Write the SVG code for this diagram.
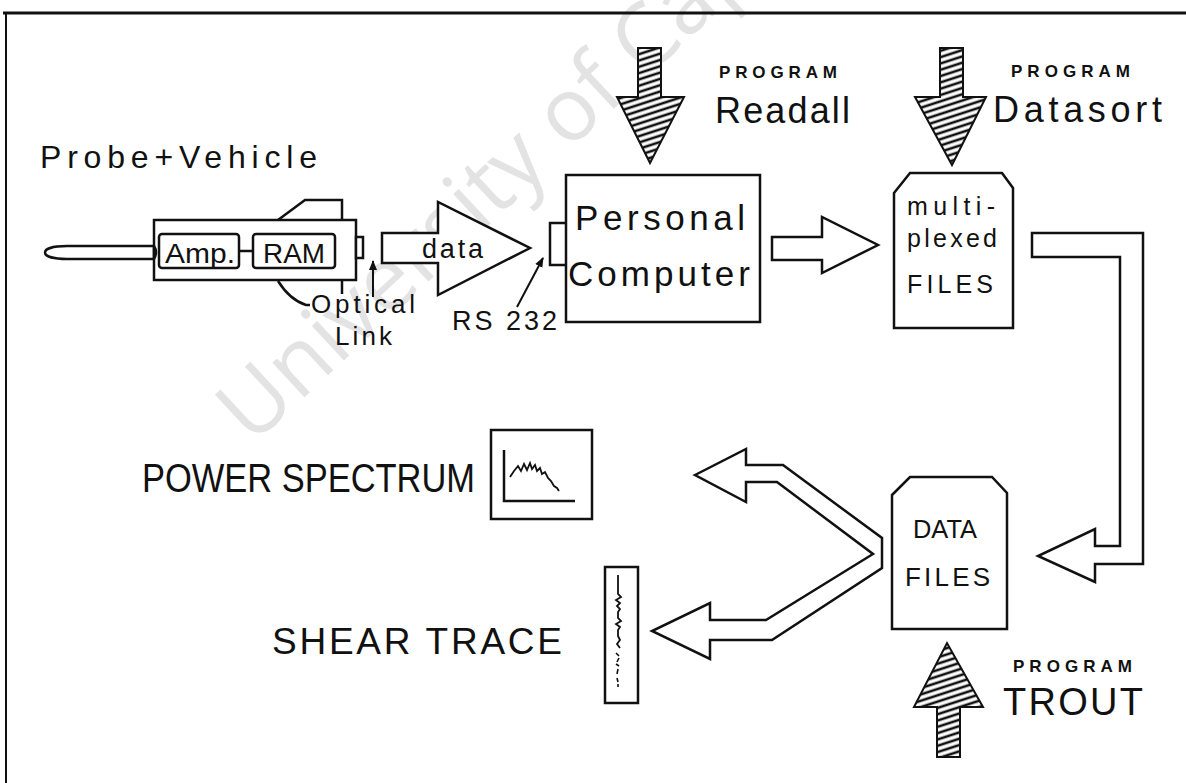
<svg xmlns="http://www.w3.org/2000/svg" width="1186" height="783" viewBox="0 0 1186 783">
  <style>
    .ln { fill: none; stroke: #111; stroke-width: 2.5; stroke-linejoin: miter; }
    .box { fill: #fff; stroke: #111; stroke-width: 2.5; }
    .blk { fill: #fff; stroke: #111; stroke-width: 2.5; stroke-linejoin: miter; }
    .hat { fill: url(#hatch); stroke: #111; stroke-width: 2; stroke-linejoin: miter; }
    .t { font-family: "Liberation Sans", Arial, sans-serif; fill: #111; }
    .prog { font-family: "Liberation Sans", Arial, sans-serif; font-weight: bold; font-size: 17px; fill: #111; }
    .wm { font-family: "Open Sans", "Liberation Sans", sans-serif; font-size: 88px; fill: #e3e3e3; }
  </style>
  <defs>
    <pattern id="hatch" patternUnits="userSpaceOnUse" width="6" height="6" patternTransform="rotate(-18)">
      <rect width="6" height="6" fill="#fff"/>
      <line x1="0" y1="3" x2="6" y2="3" stroke="#111" stroke-width="2.6"/>
    </pattern>
    <marker id="tip" markerWidth="10" markerHeight="10" refX="9" refY="5" orient="auto" markerUnits="userSpaceOnUse">
      <path d="M0,1 L10,5 L0,9 Z" fill="#111"/>
    </marker>
  </defs>

  <rect width="1186" height="783" fill="#fff"/>

  <!-- watermark -->
  <text class="wm" transform="translate(252,446) rotate(-43)">University of Cape Town</text>

  <!-- page frame -->
  <path d="M3,13 H1186" stroke="#111" stroke-width="3" fill="none"/>
  <path d="M6,13 V783" stroke="#111" stroke-width="2" fill="none"/>

  <!-- probe and vehicle -->
  <g id="probe">
    <text class="t" x="40" y="168" font-size="32" textLength="277" lengthAdjust="spacing">Probe+Vehicle</text>
    <path class="ln" d="M278,220 L305,200 H342 V220"/>
    <path class="ln" d="M278,281 Q290,300 306,305 H310"/>
    <path class="ln" d="M342,280 V294"/>
    <path class="box" d="M67,246 H154 V259 H67 C52,259 45,256 45,252.5 C45,249 52,246 67,246 Z"/>
    <rect class="box" x="154" y="220" width="202" height="60"/>
    <rect class="box" x="356" y="237" width="7" height="21"/>
    <path class="ln" d="M154,246 Q158,252 154,259"/>
    <rect class="box" x="159" y="234" width="80" height="34" rx="3"/>
    <rect class="box" x="253" y="234" width="82" height="34" rx="3"/>
    <path class="ln" d="M239,251 H253"/>
    <text class="t" x="165" y="263" font-size="27" textLength="70" lengthAdjust="spacingAndGlyphs">Amp.</text>
    <text class="t" x="263" y="263" font-size="27" textLength="62" lengthAdjust="spacingAndGlyphs">RAM</text>
    <text class="t" x="311" y="313" font-size="26" textLength="104" lengthAdjust="spacing">Optical</text>
    <text class="t" x="335" y="345" font-size="26" textLength="57" lengthAdjust="spacing">Link</text>
  </g>

  <!-- personal computer -->
  <g id="pc">
    <rect class="box" x="566" y="175" width="194" height="147"/>
    <path class="ln" d="M566,223 H550 V265 H566"/>
    <text class="t" x="575" y="230" font-size="35" textLength="170" lengthAdjust="spacing">Personal</text>
    <text class="t" x="568" y="286" font-size="35" textLength="182" lengthAdjust="spacing">Computer</text>
    <text class="t" x="452" y="330" font-size="27" textLength="105" lengthAdjust="spacing">RS 232</text>
  </g>

  <!-- program labels -->
  <g id="prog-readall">
    <text class="prog" x="719" y="78" textLength="118" lengthAdjust="spacing">PROGRAM</text>
    <text class="t" x="715" y="123" font-size="36" textLength="135" lengthAdjust="spacing">Readall</text>
  </g>
  <g id="prog-datasort">
    <text class="prog" x="1011" y="77" textLength="119" lengthAdjust="spacing">PROGRAM</text>
    <text class="t" x="993" y="122" font-size="36" textLength="169" lengthAdjust="spacing">Datasort</text>
  </g>
  <g id="prog-trout">
    <text class="prog" x="1013" y="672" textLength="119" lengthAdjust="spacing">PROGRAM</text>
    <text class="t" x="1003" y="715" font-size="38" textLength="140" lengthAdjust="spacing">TROUT</text>
  </g>

  <!-- multiplexed files -->
  <g id="mux-files">
    <path class="box" d="M894,193 L910,173 H1002 L1013,188 V328 H894 Z"/>
    <text class="t" x="907" y="215" font-size="25" textLength="88" lengthAdjust="spacing">multi-</text>
    <text class="t" x="907" y="247" font-size="25" textLength="90" lengthAdjust="spacing">plexed</text>
    <text class="t" x="907" y="293" font-size="25" textLength="86" lengthAdjust="spacing">FILES</text>
  </g>

  <!-- data files -->
  <g id="data-files">
    <path class="box" d="M892,495 L910,477 H992 L1007,493 V629 H892 Z"/>
    <text class="t" x="913" y="538" font-size="25" textLength="64" lengthAdjust="spacingAndGlyphs">DATA</text>
    <text class="t" x="905" y="586" font-size="26" textLength="85" lengthAdjust="spacing">FILES</text>
  </g>

  <!-- power spectrum -->
  <g id="power-spectrum">
    <text class="t" x="142" y="492" font-size="40" textLength="333" lengthAdjust="spacingAndGlyphs">POWER SPECTRUM</text>
    <rect class="box" x="491" y="430" width="101" height="89"/>
    <path class="ln" d="M504,450 V501 H575"/>
    <polyline fill="none" stroke="#111" stroke-width="1.8" points="510,477 514,471 518,466 521,471 524,464 527,470 530,463 532,469 535,465 537,471 540,468 542,474 545,472 548,478 551,481 554,486 557,488 559,491"/>
  </g>

  <!-- shear trace -->
  <g id="shear-trace">
    <text class="t" x="272" y="654" font-size="37" textLength="290" lengthAdjust="spacing">SHEAR TRACE</text>
    <rect class="box" x="605" y="567" width="33" height="136"/>
    <polyline fill="none" stroke="#111" stroke-width="1.8" points="618,575 618,594 621,597 616,600 620,603 617,606 620,609 618,612 618,618 621,621 616,624 620,627 618,630 618,636 620,640 617,644 620,648"/>
    <path fill="none" stroke="#111" stroke-width="1.6" d="M616,653 l3,3 M619,658 l-2,4 M616,664 l3,2 M618,669 l-1,5 M617,678 l1,4 M618,684 v3"/>
  </g>

  <!-- connectors -->
  <g id="connectors">
    <!-- probe to computer -->
    <path class="blk" d="M382,233 H438 V202 L530,248 L438,295 V263 H382 Z"/>
    <text class="t" x="422" y="258" font-size="27" textLength="61" lengthAdjust="spacing">data</text>
    <!-- optical link pointer -->
    <line x1="373" y1="297" x2="373" y2="261" stroke="#111" stroke-width="2" marker-end="url(#tip)"/>
    <!-- RS 232 pointer -->
    <line x1="517" y1="307" x2="543" y2="258" stroke="#111" stroke-width="2" marker-end="url(#tip)"/>
    <!-- computer to multiplexed files -->
    <path class="blk" d="M772,237 H822 V217 L878,245 L822,273 V260 H772 Z"/>
    <!-- multiplexed files to data files -->
    <path class="blk" d="M1032,233 H1143 V564 H1095 V582 L1038,556 L1095,529 V546 H1120 V257 H1032 Z"/>
    <!-- data files to outputs -->
    <path class="blk" d="M695,475 L746,449 V465 H783 L882,538 V568 L772,640 H710 V659 L652,631 L710,603 V620 H766 L873,554 L777,482 H746 V502 Z"/>
    <!-- program inputs -->
    <path class="hat" d="M638,48 H661 V97 H684 L650,163 L617,97 H638 Z"/>
    <path class="hat" d="M940,48 H963 V97 H986 L952,165 L915,97 H940 Z"/>
    <path class="hat" d="M937,757 H960 V707 H983 L947,643 L914,707 H937 Z"/>
  </g>
</svg>
